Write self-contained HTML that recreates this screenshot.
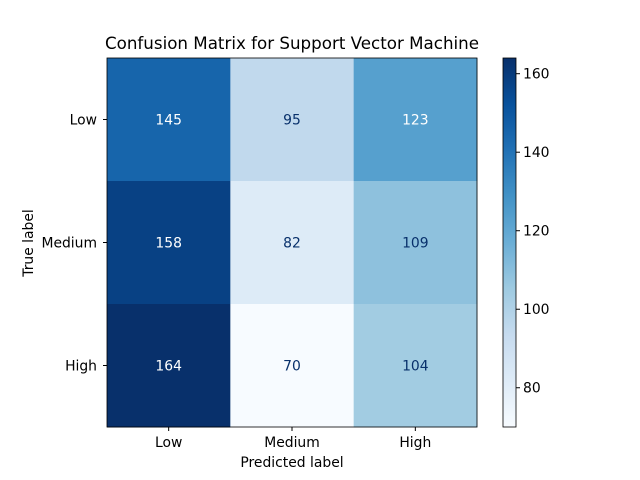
<!DOCTYPE html>
<html><head><meta charset="utf-8"><style>body{margin:0;background:#fff}svg{display:block;font-family:"DejaVu Sans","Liberation Sans",sans-serif}</style></head>
<body>
<svg id="c" width="640" height="480">
<defs><linearGradient id="g" x1="0" y1="1" x2="0" y2="0"></linearGradient></defs>
</svg>
<script>
const classes = ["Low","Medium","High"];
const matrix = [[145,95,123],[158,82,109],[164,70,104]];
const cbTicks = [80,100,120,140,160];
const stops=["#f7fbff","#deebf7","#c6dbef","#9ecae1","#6baed6","#4292c6","#2171b5","#08519c","#08306b"];
const svg=document.getElementById('c');const NS="http://www.w3.org/2000/svg";
function mk(t,a,p){const e=document.createElementNS(NS,t);for(const k in a)e.setAttribute(k,a[k]);(p||svg).appendChild(e);return e;}
const flat=matrix.flat();const vmin=Math.min(...flat),vmax=Math.max(...flat);
function hex(h){return [1,3,5].map(i=>parseInt(h.substr(i,2),16));}
function cmap(t){t=Math.max(0,Math.min(1,t))*(stops.length-1);const i=Math.min(Math.floor(t),stops.length-2),f=t-i;const a=hex(stops[i]),b=hex(stops[i+1]);return "rgb("+a.map((v,k)=>Math.round(v+(b[k]-v)*f)).join(",")+")";}
const X0=107,Y0=58,W=370,H=369,cw=W/3,ch=H/3;
const FS=13.9;
const cx=j=>X0+cw*(j+0.5), cy=i=>Y0+ch*(i+0.5);
matrix.forEach((row,i)=>row.forEach((v,j)=>{
 const r=mk('rect',{x:X0+cw*j,y:Y0+ch*i,width:cw+0.5,height:ch+0.5,fill:cmap((v-vmin)/(vmax-vmin))});
 
 
 const t=mk('text',{x:cx(j),y:cy(i)+5,'text-anchor':'middle','font-size':FS,fill:v>(vmin+vmax)/2?'#fff':'#08306b'});t.textContent=v;
 
 
}));
mk('rect',{x:X0,y:Y0,width:W,height:H,fill:'none',stroke:'#000','stroke-width':0.8});
classes.forEach((c,k)=>{
 mk('line',{x1:cx(k),x2:cx(k),y1:Y0+H,y2:Y0+H+4,stroke:'#000'});
 const t=mk('text',{x:cx(k),y:Y0+H+20,'text-anchor':'middle','font-size':FS});t.textContent=c;
 
 
 mk('line',{x1:X0-4,x2:X0,y1:cy(k),y2:cy(k),stroke:'#000'});
 const u=mk('text',{x:X0-10,y:cy(k)+5,'text-anchor':'end','font-size':FS});u.textContent=c;
 
 
});
let t=mk('text',{x:292,y:467,'text-anchor':'middle','font-size':FS});t.textContent="Predicted label";

t=mk('text',{x:33,y:243,'text-anchor':'middle','font-size':FS,transform:'rotate(-90 33 243)'});t.textContent="True label";

t=mk('text',{x:292,y:49,'text-anchor':'middle','font-size':16.7});t.textContent="Confusion Matrix for Support Vector Machine";

const g=document.getElementById('g');stops.forEach((s,i)=>mk('stop',{offset:i/(stops.length-1),'stop-color':s},g));
const CX=503,CW=13,CY=Y0,CH=H;
const cb=mk('rect',{x:CX,y:CY,width:CW,height:CH,fill:'url(#g)',stroke:'#000','stroke-width':0.8});

const vy=v=>CY+CH-(v-vmin)/(vmax-vmin)*CH;
cbTicks.forEach(v=>{mk('line',{x1:CX+CW,x2:CX+CW+4,y1:vy(v),y2:vy(v),stroke:'#000'});
 const l=mk('text',{x:CX+CW+7,y:vy(v)+5,'font-size':FS});l.textContent=v;
 });
</script>
</body></html>
